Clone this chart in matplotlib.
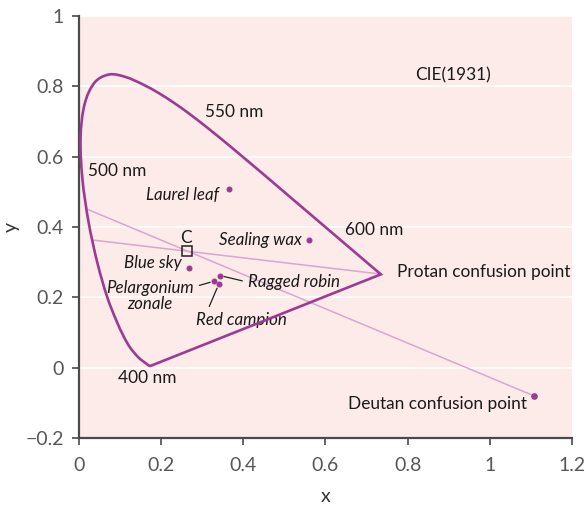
import matplotlib
matplotlib.use("Agg")
import matplotlib.pyplot as plt
from matplotlib.path import Path
from matplotlib.patches import PathPatch
import numpy as np

# CIE 1931 spectral locus (wavelength nm, x, y)
wavelengths = [380, 400, 410, 420, 430, 440, 450, 460, 470, 475, 480, 485, 490, 495,
               500, 505, 510, 515, 520, 525, 530, 535, 540, 545, 550, 555, 560, 565,
               570, 575, 580, 585, 590, 595, 600, 605, 610, 620, 630, 640, 650, 660,
               680, 700]
locus_x = [0.1741, 0.1733, 0.1726, 0.1714, 0.1689, 0.1644, 0.1566, 0.1440, 0.1241, 0.1096,
           0.0913, 0.0687, 0.0454, 0.0235, 0.0082, 0.0039, 0.0139, 0.0389, 0.0743, 0.1142,
           0.1547, 0.1929, 0.2296, 0.2658, 0.3016, 0.3373, 0.3731, 0.4087, 0.4441, 0.4788,
           0.5125, 0.5448, 0.5752, 0.6029, 0.6270, 0.6482, 0.6658, 0.6915, 0.7079, 0.7190,
           0.7260, 0.7300, 0.7334, 0.7347]
locus_y = [0.0050, 0.0048, 0.0048, 0.0051, 0.0069, 0.0109, 0.0177, 0.0297, 0.0578, 0.0868,
           0.1327, 0.2007, 0.2950, 0.4127, 0.5384, 0.6548, 0.7502, 0.8120, 0.8338, 0.8262,
           0.8059, 0.7816, 0.7543, 0.7243, 0.6923, 0.6589, 0.6245, 0.5896, 0.5547, 0.5202,
           0.4866, 0.4544, 0.4242, 0.3965, 0.3725, 0.3514, 0.3340, 0.3083, 0.2920, 0.2809,
           0.2740, 0.2700, 0.2666, 0.2653]

# Confusion points and lines
protan_point = (0.735, 0.266)
deutan_point = (1.107, -0.08)
protan_line_start = (0.032, 0.363)
deutan_line_start = (0.017, 0.452)

# Illuminant C
c_point = (0.263, 0.333)

# Sample colours
sample_names = ["Laurel leaf", "Sealing wax", "Blue sky", "Ragged robin",
                "Pelargonium\nzonale", "Red campion"]
sample_x = [0.364, 0.561, 0.268, 0.343, 0.329, 0.340]
sample_y = [0.507, 0.364, 0.283, 0.262, 0.246, 0.237]

y_ticks = [-0.2, 0, 0.2, 0.4, 0.6, 0.8, 1]
y_tick_labels = ["\u22120.2", "0", "0.2", "0.4", "0.6", "0.8", "1"]
x_ticks = [0, 0.2, 0.4, 0.6, 0.8, 1, 1.2]
x_tick_labels = ["0", "0.2", "0.4", "0.6", "0.8", "1", "1.2"]

PURPLE = "#9b3b92"
LIGHT = "#d8a6d3"
BG = "#fcebe8"
FONT = "Lato"

plt.rcParams['font.family'] = [FONT, 'DejaVu Sans']

fig = plt.figure(figsize=(5.86, 5.09), dpi=100)
ax = fig.add_axes([0.1348, 0.1395, 0.8413, 0.8291])
ax.set_facecolor(BG)
ax.set_xlim(0, 1.2)
ax.set_ylim(-0.2, 1)

for yt in y_ticks:
    ax.axhline(yt, color="white", lw=1.2, zorder=1)

# confusion lines
ax.plot([protan_line_start[0], protan_point[0]], [protan_line_start[1], protan_point[1]],
        color=LIGHT, lw=1.1, zorder=2)
ax.plot([deutan_line_start[0], deutan_point[0]], [deutan_line_start[1], deutan_point[1]],
        color=LIGHT, lw=1.1, zorder=2)


def smooth_path(xs, ys, transform):
    """Smooth cubic Bezier through points (computed in display space)."""
    P = transform.transform(np.column_stack([xs, ys]))
    n = len(P)
    tang = np.zeros_like(P)
    for i in range(n):
        if i == 0:
            d = P[1] - P[0]
        elif i == n - 1:
            d = P[-1] - P[-2]
        else:
            d = P[i + 1] - P[i - 1]
        nrm = np.hypot(*d)
        tang[i] = d / nrm if nrm > 0 else d
    verts = [P[0]]
    codes = [Path.MOVETO]
    for i in range(n - 1):
        L = np.hypot(*(P[i + 1] - P[i]))
        verts += [P[i] + tang[i] * L / 3, P[i + 1] - tang[i + 1] * L / 3, P[i + 1]]
        codes += [Path.CURVE4] * 3
    # line of purples back to start
    verts.append(P[0])
    codes.append(Path.LINETO)
    return Path(np.array(verts), codes)


fig.canvas.draw()
path = smooth_path(locus_x, locus_y, ax.transData)
patch = PathPatch(path, facecolor="none", edgecolor=PURPLE, lw=1.9, zorder=3,
                  joinstyle="miter")
patch.set_transform(matplotlib.transforms.IdentityTransform())
patch.set_clip_on(False)
fig.add_artist(patch)

ax.plot([deutan_point[0]], [deutan_point[1]], "o", color=PURPLE, ms=3.8, zorder=4)
ax.plot(sample_x, sample_y, "o", color=PURPLE, ms=3.3, lw=0, zorder=4)
ax.plot([c_point[0]], [c_point[1]], "s", mfc="none", mec="#222222", mew=1.1, ms=6.5, zorder=5)

fs = 12.4
tc = "#1a1a1a"
ax.text(0.818, 0.832, "CIE(1931)", fontsize=fs, color=tc, va="center", ha="left")
ax.text(0.307, 0.727, "550 nm", fontsize=fs, color=tc, va="center", ha="left")
ax.text(0.022, 0.559, "500 nm", fontsize=fs, color=tc, va="center", ha="left")
ax.text(0.647, 0.392, "600 nm", fontsize=fs, color=tc, va="center", ha="left")
ax.text(0.095, -0.03, "400 nm", fontsize=fs, color=tc, va="center", ha="left")
ax.text(0.774, 0.272, "Protan confusion point", fontsize=fs, color=tc, va="center", ha="left")
ax.text(1.09, -0.104, "Deutan confusion point", fontsize=fs, color=tc, va="center", ha="right")
ax.text(0.260, 0.369, "C", fontsize=fs, color=tc, va="center", ha="center")

ifs = 12.2
ax.text(0.340, 0.490, sample_names[0], fontsize=ifs, style="italic", color=tc, va="center", ha="right")
ax.text(0.543, 0.363, sample_names[1], fontsize=ifs, style="italic", color=tc, va="center", ha="right")
ax.text(0.250, 0.297, sample_names[2], fontsize=ifs, style="italic", color=tc, va="center", ha="right")
ax.annotate(sample_names[3], xy=(sample_x[3], sample_y[3]), xytext=(0.411, 0.243),
            fontsize=ifs, style="italic", color=tc, va="center", ha="left",
            arrowprops=dict(arrowstyle="-", color="#222222", lw=0.9, shrinkA=2, shrinkB=3,
                            relpos=(0, 0.5)))
ax.annotate(sample_names[4], xy=(sample_x[4], sample_y[4]), xytext=(0.173, 0.204),
            fontsize=ifs, style="italic", color=tc, va="center", ha="center",
            multialignment="center", linespacing=1.0,
            arrowprops=dict(arrowstyle="-", color="#222222", lw=0.9, shrinkA=2, shrinkB=3,
                            relpos=(1, 0.78)))
ax.annotate(sample_names[5], xy=(sample_x[5], sample_y[5]), xytext=(0.285, 0.136),
            fontsize=ifs, style="italic", color=tc, va="center", ha="left",
            arrowprops=dict(arrowstyle="-", color="#222222", lw=0.9, shrinkA=2, shrinkB=3,
                            relpos=(0.12, 1)))

for s in ["top", "right"]:
    ax.spines[s].set_visible(False)
for s in ["left", "bottom"]:
    ax.spines[s].set_color("#4a4a4a")
    ax.spines[s].set_linewidth(1.6)

ax.set_yticks(y_ticks)
ax.set_yticklabels(y_tick_labels)
ax.set_xticks(x_ticks)
ax.set_xticklabels(x_tick_labels)
ax.tick_params(axis="both", direction="out", length=5, width=1.2, color="#4a4a4a",
               labelsize=14, labelcolor="#575757")
ax.tick_params(axis="x", pad=9)
ax.tick_params(axis="y", pad=6)

ax.set_xlabel("x", fontsize=14, color="#333333", labelpad=10)
ax.set_ylabel("y", fontsize=14, color="#333333", labelpad=4)

fig.savefig("out.png", dpi=100)
